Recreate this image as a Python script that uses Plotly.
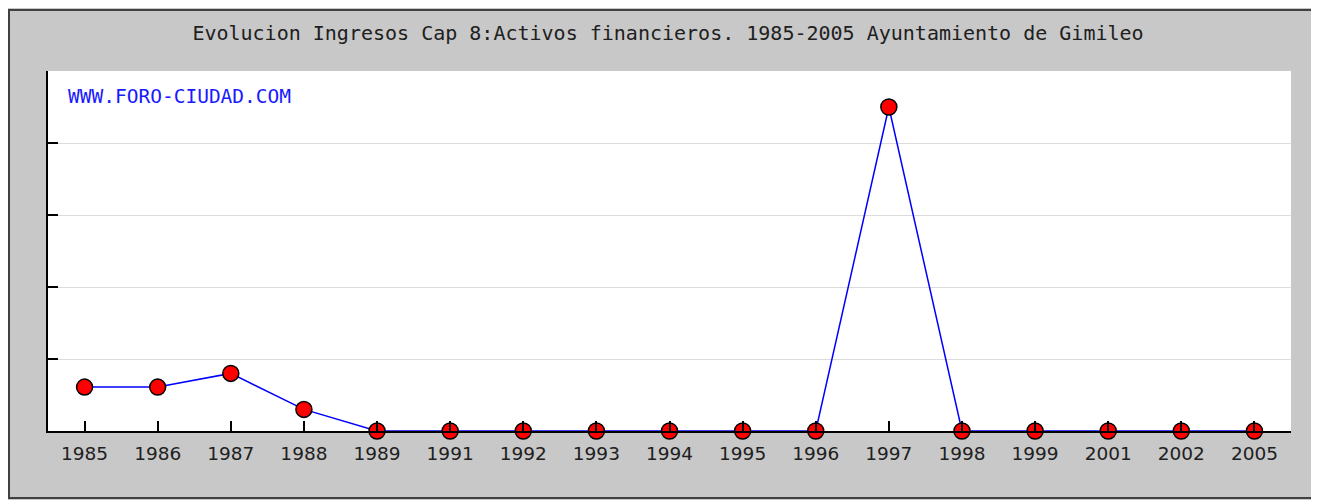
import plotly.graph_objects as go

years = ["1985", "1986", "1987", "1988", "1989", "1991", "1992", "1993", "1994",
         "1995", "1996", "1997", "1998", "1999", "2001", "2002", "2005"]
values = [0.61, 0.61, 0.80, 0.30, 0, 0, 0, 0, 0, 0, 0, 4.50, 0, 0, 0, 0, 0]

title_text = "Evolucion Ingresos Cap 8:Activos financieros. 1985-2005 Ayuntamiento de Gimileo"
watermark = "WWW.FORO-CIUDAD.COM"

# page body has an 8px margin, so work in figure coordinates = screen - 8
OFF = 8
W, H = 1319 - OFF, 500 - OFF
L, R, T, B = 48 - OFF, 1291 - OFF, 71 - OFF, 431 - OFF
pw, ph = R - L, B - T

def px_x(x):
    return (x - OFF - L) / pw

def px_y(y):
    return (B - (y - OFF)) / ph

fig = go.Figure()
fig.add_trace(go.Scatter(
    x=years, y=values, mode="lines+markers",
    line=dict(color="#0000ff", width=1.5),
    marker=dict(symbol="circle", size=16, color="#ff0000",
                line=dict(color="#000000", width=1.5)),
    cliponaxis=False, hoverinfo="x+y",
))

# outer frame border
fig.add_shape(type="rect", xref="paper", yref="paper", layer="above",
              x0=px_x(9), x1=px_x(1316), y0=px_y(498), y1=px_y(10),
              fillcolor="rgba(0,0,0,0)", line=dict(color="#404040", width=2))

fig.add_annotation(text=watermark, xref="paper", yref="paper",
                   x=px_x(66), y=px_y(97), xanchor="left", yanchor="middle",
                   showarrow=False,
                   font=dict(family="DejaVu Sans Mono", size=19.5, color="#1a1aff"))

fig.update_layout(
    width=W, height=H,
    margin=dict(l=L, r=W - R, t=T, b=H - B, pad=0),
    paper_bgcolor="#c8c8c8",
    plot_bgcolor="#ffffff",
    showlegend=False,
    title=dict(text=title_text, x=px_x(668), xref="paper", xanchor="center",
               y=1 - (33 - OFF) / H, yref="container", yanchor="middle",
               font=dict(family="DejaVu Sans Mono", size=20, color="#202020")),
    xaxis=dict(type="category", range=[-0.5, len(years) - 0.5],
               showline=True, linecolor="#000000", linewidth=2,
               ticks="inside", ticklen=10, tickcolor="#000000", tickwidth=1.5,
               showgrid=False, zeroline=False, ticklabelstandoff=5,
               tickfont=dict(family="DejaVu Sans", size=18.5, color="#202020")),
    yaxis=dict(range=[0, 5], dtick=1, tick0=0,
               showline=True, linecolor="#000000", linewidth=2,
               ticks="inside", ticklen=10, tickcolor="#000000", tickwidth=1.5,
               showgrid=True, gridcolor="#dcdcdc", gridwidth=1,
               zeroline=False, showticklabels=False),
)

fig.write_html("out.html")
